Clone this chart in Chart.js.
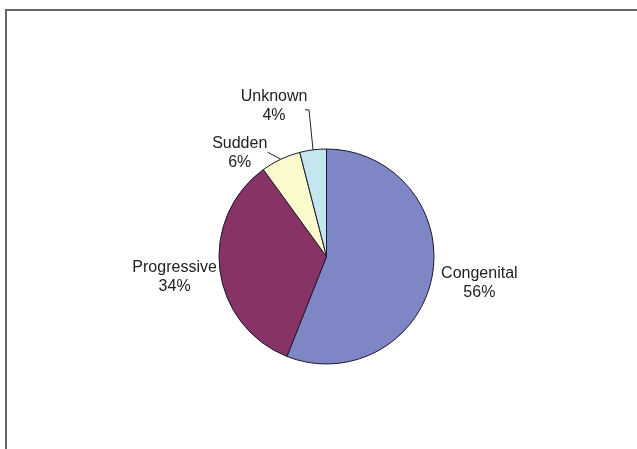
<!DOCTYPE html>
<html>
<head>
<meta charset="utf-8">
<script src="https://cdn.jsdelivr.net/npm/chart.js@4/dist/chart.umd.min.js"></script>
<style>
  html, body { margin: 0; padding: 0; background: #fff; }
  #wrap { width: 637px; height: 449px; position: relative; }
</style>
</head>
<body>
<div id="wrap"><canvas id="pieChart" width="637" height="449"></canvas></div>
<script>
const categories = ["Congenital", "Progressive", "Sudden", "Unknown"];
const shares = [56, 34, 6, 4];
const sliceColors = ["#7f86c6", "#883366", "#fafacc", "#c4e6ee"];

// where each label sits, relative to the point on the rim at the slice middle
const labelPlace = [
  { dx: 9, dy: 6, align: "left" },
  { dx: -3, dy: 7, align: "right" },
  { dx: -41, dy: -6, align: "center", leader: [[-13, -7]] },
  { dx: -39, dy: -44, align: "center", leader: [[-4, -40], [-8, -40]] }
];

const frame = {
  id: "frame",
  beforeDraw(chart) {
    const ctx = chart.ctx;
    ctx.save();
    ctx.strokeStyle = "#666";
    ctx.lineWidth = 2;
    ctx.beginPath();
    ctx.moveTo(6, chart.height);
    ctx.lineTo(6, 10);
    ctx.lineTo(chart.width, 10);
    ctx.stroke();
    ctx.restore();
  }
};

const sliceLabels = {
  id: "sliceLabels",
  afterDatasetsDraw(chart) {
    const ctx = chart.ctx;
    const meta = chart.getDatasetMeta(0);
    ctx.save();
    ctx.font = "16px 'Liberation Sans', Arial, sans-serif";
    ctx.fillStyle = "#222";
    ctx.textBaseline = "middle";
    ctx.textAlign = "center";
    meta.data.forEach((arc, i) => {
      const p = arc.getProps(["x", "y", "startAngle", "endAngle", "outerRadius"], true);
      const mid = (p.startAngle + p.endAngle) / 2;
      const ex = p.x + Math.cos(mid) * p.outerRadius;
      const ey = p.y + Math.sin(mid) * p.outerRadius;
      const place = labelPlace[i];
      if (place.leader) {
        ctx.strokeStyle = "#222";
        ctx.lineWidth = 1;
        ctx.beginPath();
        ctx.moveTo(ex, ey);
        place.leader.forEach(([lx, ly]) => ctx.lineTo(ex + lx, ey + ly));
        ctx.stroke();
      }
      const lines = [categories[i], shares[i] + "%"];
      const w = Math.max(...lines.map(t => ctx.measureText(t).width));
      let tx = ex + place.dx;
      if (place.align === "left") tx += w / 2;
      if (place.align === "right") tx -= w / 2;
      const ty = ey + place.dy;
      ctx.fillText(lines[0], tx, ty - 9.5);
      ctx.fillText(lines[1], tx, ty + 9.5);
    });
    ctx.restore();
  }
};

new Chart(document.getElementById("pieChart").getContext("2d"), {
  type: "pie",
  data: {
    labels: categories,
    datasets: [{
      data: shares,
      backgroundColor: sliceColors,
      borderColor: "#1a1a2a",
      borderWidth: 1,
      radius: 107.5
    }]
  },
  options: {
    responsive: false,
    animation: false,
    layout: { padding: { left: 219, right: 203, top: 149, bottom: 85 } },
    plugins: {
      legend: { display: false },
      tooltip: { enabled: false }
    }
  },
  plugins: [frame, sliceLabels]
});
</script>
</body>
</html>
